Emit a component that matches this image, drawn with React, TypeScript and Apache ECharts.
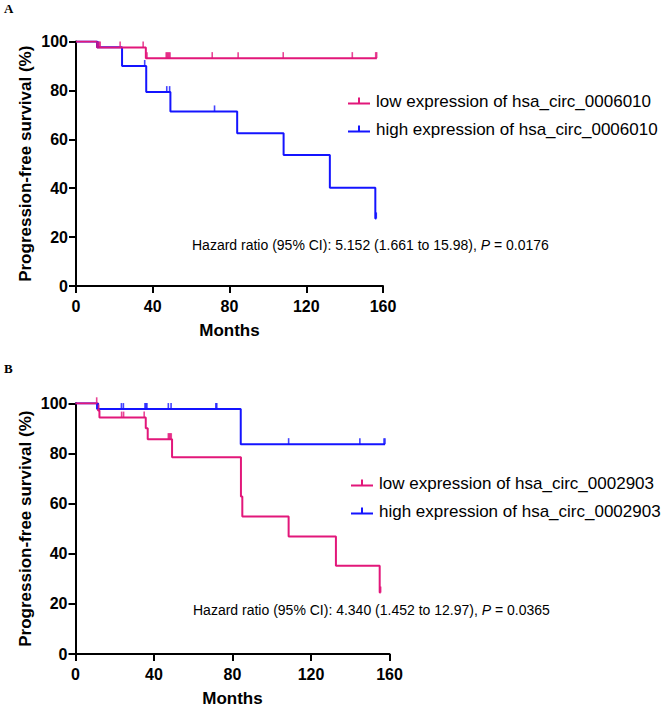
import React, { useEffect, useRef } from "react";
import * as echarts from "echarts";

// ---------- Data ----------
const LOW_A = "low expression of hsa_circ_0006010";
const HIGH_A = "high expression of hsa_circ_0006010";
const LOW_B = "low expression of hsa_circ_0002903";
const HIGH_B = "high expression of hsa_circ_0002903";

const xTicks = [0, 40, 80, 120, 160];
const yTicks = [0, 20, 40, 60, 80, 100];

// Panel A — low expression (step times / survival %)
const aLowTimes = [0, 11, 36.4, 156.8];
const aLowSurv = [100, 97.5, 93.2, 93.2];
const aLowCensor = [11.3, 12, 12.6, 23, 35, 37, 47, 47.5, 48, 48.5, 49, 71, 84.5, 108, 144, 156.2, 156.7];

// Panel A — high expression
const aHighTimes = [0, 11, 24, 36.6, 49.2, 84, 108.2, 132.3, 156, 156.5];
const aHighSurv = [100, 97.6, 90, 79.3, 71.4, 62.5, 53.6, 40.2, 27.6, 27.6];
const aHighCensor = [11.2, 11.7, 35.8, 47.3, 48.8, 72.2, 156.2, 156.5];

// Panel B — low expression
const bLowTimes = [0, 11.5, 12.2, 35.8, 36.8, 49.2, 84.3, 85, 108.6, 132.7, 155, 155.5];
const bLowSurv = [100, 97.1, 94.3, 90, 85.7, 78.5, 62.8, 54.8, 46.9, 35.2, 24.5, 24.5];
const bLowCensor = [10.8, 11.8, 23.5, 24.5, 35, 47.3, 47.8, 48.3, 48.8, 155.1, 155.5];

// Panel B — high expression
const bHighTimes = [0, 11, 84.2, 157.7];
const bHighSurv = [100, 97.7, 83.7, 83.7];
const bHighCensor = [11.2, 11.6, 23.4, 24.4, 35.4, 35.9, 36.4, 47.3, 48.7, 71.5, 72, 108.6, 144.9, 157.2, 157.7];

const hazardA = "Hazard ratio (95% CI): 5.152 (1.661 to 15.98), {i|P} = 0.0176";
const hazardB = "Hazard ratio (95% CI): 4.340 (1.452 to 12.97), {i|P} = 0.0365";

// ---------- Styles ----------
const PINK = "#E2177A";
const BLUE = "#1414FF";
const SANS = "'Liberation Sans', Arial, sans-serif";
const SERIF = "'Liberation Serif', 'Times New Roman', serif";

const steps = (t: number[], s: number[]) => t.map((x, i) => [x, s[i]]);
const survAt = (t: number[], s: number[], x: number) => {
  let v = s[0];
  for (let i = 0; i < t.length; i++) if (t[i] <= x) v = s[i];
  return v;
};
const censorPts = (t: number[], s: number[], c: number[]) => c.map((x) => [x, survAt(t, s, x)]);

const xAxis = (gridIndex: number) => ({
  type: "value",
  gridIndex,
  min: xTicks[0],
  max: xTicks[xTicks.length - 1],
  interval: xTicks[1] - xTicks[0],
  name: "Months",
  nameLocation: "middle",
  nameGap: 36,
  nameTextStyle: { fontFamily: SANS, fontWeight: "bold", fontSize: 17, color: "#000" },
  axisLine: { show: true, onZero: false, lineStyle: { color: "#000", width: 2 } },
  axisTick: { show: true, length: 7, lineStyle: { color: "#000", width: 2 } },
  axisLabel: { fontFamily: SANS, fontWeight: "bold", fontSize: 16, color: "#000", margin: 12 },
  splitLine: { show: false },
});

const yAxis = (gridIndex: number) => ({
  type: "value",
  gridIndex,
  min: yTicks[0],
  max: yTicks[yTicks.length - 1],
  interval: yTicks[1] - yTicks[0],
  name: "Progression-free survival (%)",
  nameLocation: "middle",
  nameRotate: 90,
  nameGap: 42,
  nameTextStyle: { fontFamily: SANS, fontWeight: "bold", fontSize: 17, color: "#000" },
  axisLine: { show: true, onZero: false, lineStyle: { color: "#000", width: 2 } },
  axisTick: { show: true, length: 7, lineStyle: { color: "#000", width: 2 } },
  axisLabel: { fontFamily: SANS, fontWeight: "bold", fontSize: 16, color: "#000", margin: 8 },
  splitLine: { show: false },
});

const stepSeries = (name: string, idx: number, color: string, data: number[][]) => ({
  name,
  type: "line",
  xAxisIndex: idx,
  yAxisIndex: idx,
  step: "end",
  data,
  symbol: "none",
  showSymbol: false,
  color,
  itemStyle: { color },
  lineStyle: { color, width: 2 },
  z: 2,
});

const censorSeries = (name: string, idx: number, color: string, data: number[][]) => ({
  name,
  type: "scatter",
  xAxisIndex: idx,
  yAxisIndex: idx,
  data,
  symbol: "rect",
  symbolSize: [1.6, 6],
  symbolOffset: [0, -3],
  itemStyle: { color },
  z: 3,
});

const ICON = "path://M0,5 L22,5 L22,7 L0,7 Z M10,0 L12,0 L12,5 L10,5 Z";

const legend = (top: number, left: number, names: string[]) => ({
  orient: "vertical",
  left,
  top,
  itemWidth: 22,
  itemHeight: 9,
  itemGap: 10,
  icon: ICON,
  data: names,
  selectedMode: false,
  textStyle: { fontFamily: SANS, fontSize: 17, color: "#000", lineHeight: 18, padding: [0, 0, 0, 1] },
});

const hazardText = (x: number, y: number, text: string) => ({
  type: "text",
  x,
  y,
  style: {
    text,
    fontFamily: SANS,
    fontSize: 14,
    fill: "#000",
    verticalAlign: "middle",
    align: "left",
    rich: { i: { fontFamily: SANS, fontSize: 14, fontStyle: "italic", fill: "#000" } },
  },
});

const option = {
  animation: false,
  backgroundColor: "#fff",
  grid: [
    { left: 76, top: 41.5, width: 307, height: 244.5 },
    { left: 75.5, top: 403.3, width: 314, height: 251 },
  ],
  xAxis: [xAxis(0), xAxis(1)],
  yAxis: [yAxis(0), yAxis(1)],
  legend: [legend(87, 343, [LOW_A, HIGH_A]), legend(469, 346, [LOW_B, HIGH_B])],
  series: [
    stepSeries(HIGH_A, 0, BLUE, steps(aHighTimes, aHighSurv)),
    stepSeries(LOW_A, 0, PINK, steps(aLowTimes, aLowSurv)),
    censorSeries(HIGH_A, 0, BLUE, censorPts(aHighTimes, aHighSurv, aHighCensor)),
    censorSeries(LOW_A, 0, PINK, censorPts(aLowTimes, aLowSurv, aLowCensor)),
    stepSeries(HIGH_B, 1, BLUE, steps(bHighTimes, bHighSurv)),
    stepSeries(LOW_B, 1, PINK, steps(bLowTimes, bLowSurv)),
    censorSeries(HIGH_B, 1, BLUE, censorPts(bHighTimes, bHighSurv, bHighCensor)),
    censorSeries(LOW_B, 1, PINK, censorPts(bLowTimes, bLowSurv, bLowCensor)),
  ],
  graphic: [
    { type: "text", x: 4, y: 8, style: { text: "A", fontFamily: SERIF, fontWeight: "bold", fontSize: 13, fill: "#000", verticalAlign: "middle" } },
    { type: "text", x: 4, y: 368, style: { text: "B", fontFamily: SERIF, fontWeight: "bold", fontSize: 13, fill: "#000", verticalAlign: "middle" } },
    hazardText(192, 245, hazardA),
    hazardText(193, 610, hazardB),
  ],
};

export default function App() {
  const ref = useRef<HTMLDivElement>(null);
  useEffect(() => {
    if (!ref.current) return;
    const chart = echarts.init(ref.current, null, { renderer: "svg" });
    chart.setOption(option as any);
    return () => chart.dispose();
  }, []);
  return (
    <div
      ref={ref}
      style={{ position: "fixed", left: 0, top: 0, width: 669, height: 708, background: "#fff" }}
    />
  );
}
